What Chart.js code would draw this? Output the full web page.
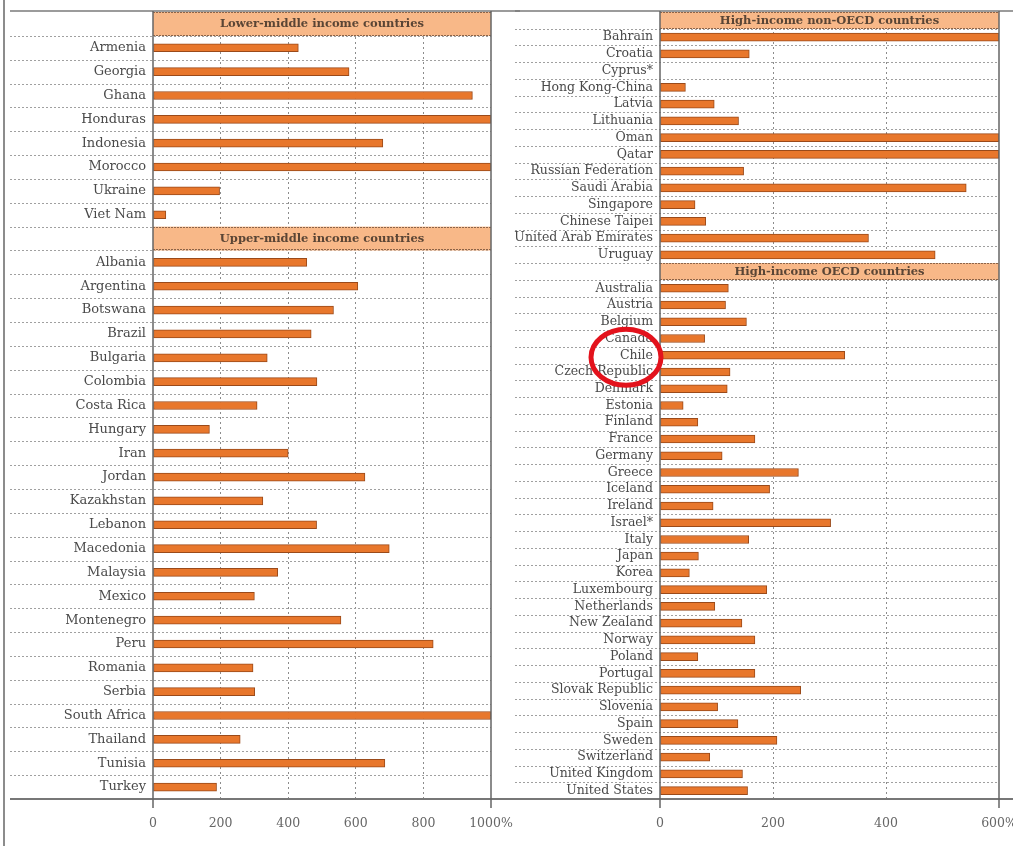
<!DOCTYPE html>
<html>
<head>
<meta charset="utf-8">
<script src="https://cdn.jsdelivr.net/npm/chart.js@4"></script>
<style>
  html, body { margin: 0; padding: 0; background: #ffffff; }
  #wrap { position: relative; width: 1013px; height: 846px; overflow: hidden; background: #ffffff; }
  canvas { position: absolute; top: 0; }
  #left { left: 0; }
  #right { left: 506px; }
</style>
</head>
<body>
<div id="wrap">
  <canvas id="left" width="520" height="846"></canvas>
  <canvas id="right" width="507" height="846"></canvas>
</div>
<script>
// ---------- DATA ----------
const lowerMiddleTitle = 'Lower-middle income countries';
const lowerMiddleCountries = ['Armenia', 'Georgia', 'Ghana', 'Honduras', 'Indonesia', 'Morocco', 'Ukraine', 'Viet Nam'];
const lowerMiddleValues = [430, 580, 945, 1000, 680, 1000, 197, 38];

const upperMiddleTitle = 'Upper-middle income countries';
const upperMiddleCountries = ['Albania', 'Argentina', 'Botswana', 'Brazil', 'Bulgaria', 'Colombia', 'Costa Rica', 'Hungary',
  'Iran', 'Jordan', 'Kazakhstan', 'Lebanon', 'Macedonia', 'Malaysia', 'Mexico', 'Montenegro', 'Peru', 'Romania',
  'Serbia', 'South Africa', 'Thailand', 'Tunisia', 'Turkey'];
const upperMiddleValues = [455, 606, 534, 468, 338, 485, 308, 167,
  400, 627, 325, 484, 699, 369, 300, 556, 829, 296,
  301, 1000, 258, 686, 188];

const nonOecdTitle = 'High-income non-OECD countries';
const nonOecdCountries = ['Bahrain', 'Croatia', 'Cyprus*', 'Hong Kong-China', 'Latvia', 'Lithuania', 'Oman', 'Qatar',
  'Russian Federation', 'Saudi Arabia', 'Singapore', 'Chinese Taipei', 'United Arab Emirates', 'Uruguay'];
const nonOecdValues = [600, 158, null, 45, 96, 139, 600, 600, 148, 542, 62, 81, 369, 487];

const oecdTitle = 'High-income OECD countries';
const oecdCountries = ['Australia', 'Austria', 'Belgium', 'Canada', 'Chile', 'Czech Republic', 'Denmark', 'Estonia',
  'Finland', 'France', 'Germany', 'Greece', 'Iceland', 'Ireland', 'Israel*', 'Italy', 'Japan', 'Korea',
  'Luxembourg', 'Netherlands', 'New Zealand', 'Norway', 'Poland', 'Portugal', 'Slovak Republic', 'Slovenia',
  'Spain', 'Sweden', 'Switzerland', 'United Kingdom', 'United States'];
const oecdValues = [121, 116, 153, 79, 327, 124, 119, 41,
  67, 168, 110, 245, 194, 94, 302, 157, 68, 52,
  189, 97, 145, 168, 67, 168, 249, 102,
  138, 207, 88, 146, 155];

const leftTickLabels = ['0', '200', '400', '600', '800', '1000%'];
const rightTickLabels = ['0', '200', '400', '600%'];
const highlightedCountry = 'Chile';

// ---------- STYLE ----------
const BAR_FILL = '#e8772c';
const BAR_EDGE = '#9a4a1a';
const HEADER_FILL = '#f8b888';
const HEADER_EDGE = '#8d6448';
const TEXT = '#4a4a4a';
const FONT = "'DejaVu Serif', 'Liberation Serif', serif";

const decor = {
  id: 'decor',
  beforeDatasetsDraw(chart, args, opts) {
    const { ctx, chartArea: a, scales: { y } } = chart;
    const n = y.getLabels().length;
    const slot = (a.bottom - a.top) / n;
    ctx.save();
    ctx.strokeStyle = '#a0a0a0';
    ctx.lineWidth = 1;
    ctx.setLineDash([2, 2]);
    for (let k = 1; k < n; k++) {
      const yy = Math.round(a.top + k * slot) + 0.5;
      ctx.beginPath(); ctx.moveTo(opts.lineStart, yy); ctx.lineTo(a.right, yy); ctx.stroke();
    }
    opts.headers.forEach(h => {
      const yc = y.getPixelForValue(h.index);
      const t = yc - slot / 2;
      ctx.setLineDash([]);
      ctx.fillStyle = HEADER_FILL;
      ctx.fillRect(a.left, t, a.right - a.left, slot);
      ctx.strokeStyle = HEADER_EDGE;
      ctx.setLineDash([2, 1]);
      ctx.beginPath();
      ctx.moveTo(a.left, Math.round(t) + 0.5); ctx.lineTo(a.right, Math.round(t) + 0.5);
      ctx.moveTo(a.left, Math.round(t + slot) - 0.5); ctx.lineTo(a.right, Math.round(t + slot) - 0.5);
      ctx.stroke();
      ctx.setLineDash([]);
      ctx.fillStyle = '#5a4535';
      ctx.font = 'bold ' + opts.headerFont + 'px ' + FONT;
      ctx.textAlign = 'center';
      ctx.textBaseline = 'middle';
      ctx.fillText(h.text, (a.left + a.right) / 2, yc + 0.5);
    });
    ctx.restore();
  },
  afterDatasetsDraw(chart, args, opts) {
    const { ctx, chartArea: a, scales: { y } } = chart;
    ctx.save();
    ctx.setLineDash([]);
    ctx.strokeStyle = '#7a7a7a';
    ctx.lineWidth = 1.5;
    ctx.beginPath(); ctx.moveTo(opts.lineStart, a.top - 1); ctx.lineTo(opts.topEnd, a.top - 1); ctx.stroke();
    ctx.strokeStyle = '#777777';
    ctx.lineWidth = 2;
    ctx.beginPath(); ctx.moveTo(opts.lineStart, a.bottom); ctx.lineTo(chart.width, a.bottom); ctx.stroke();
    ctx.strokeStyle = '#666666';
    ctx.lineWidth = 1.5;
    ctx.beginPath();
    ctx.moveTo(a.left, a.top - 1); ctx.lineTo(a.left, a.bottom + 9);
    ctx.moveTo(a.right, a.top - 1); ctx.lineTo(a.right, a.bottom + 9);
    ctx.stroke();
    if (opts.frameLeft) {
      ctx.beginPath(); ctx.moveTo(4, 0); ctx.lineTo(4, chart.height); ctx.stroke();
    }
    if (opts.circle) {
      const idx = y.getLabels().indexOf(opts.circle.label);
      const cy = y.getPixelForValue(idx) + 2;
      const cx = a.left - 34;
      ctx.strokeStyle = '#e3121c';
      ctx.lineWidth = 5;
      ctx.beginPath();
      ctx.ellipse(cx, cy, 35, 28, 0, 0, Math.PI * 2);
      ctx.stroke();
    }
    ctx.restore();
  }
};

function buildChart(canvasId, groups, max, step, tickLabels, cfg) {
  const labels = [];
  const values = [];
  const headers = [];
  groups.forEach(g => {
    headers.push({ index: labels.length, text: g.title });
    labels.push('');
    values.push(null);
    g.countries.forEach((c, i) => { labels.push(c); values.push(g.values[i]); });
  });
  return new Chart(document.getElementById(canvasId), {
    type: 'bar',
    data: {
      labels: labels,
      datasets: [{
        data: values,
        backgroundColor: BAR_FILL,
        borderColor: BAR_EDGE,
        borderWidth: 1,
        barThickness: 8,
        borderSkipped: false
      }]
    },
    options: {
      indexAxis: 'y',
      responsive: false,
      animation: false,
      devicePixelRatio: 1,
      layout: { padding: { top: 12, right: cfg.padRight, left: 0, bottom: 0 } },
      plugins: {
        legend: { display: false },
        tooltip: { enabled: false },
        decor: {
          headers: headers,
          lineStart: cfg.lineStart,
          topEnd: cfg.topEnd,
          headerFont: cfg.headerFont,
          frameLeft: cfg.frameLeft,
          circle: cfg.circle
        }
      },
      scales: {
        x: {
          min: 0, max: max,
          ticks: {
            stepSize: step,
            padding: 17,
            color: '#666666',
            font: { family: FONT, size: 12.5 },
            callback: (v, i) => tickLabels[i]
          },
          grid: {
            drawTicks: false,
            color: (c) => (c.tick && (c.tick.value === 0 || c.tick.value === max)) ? 'rgba(0,0,0,0)' : '#8c8c8c',
            lineWidth: 1
          },
          border: { display: false, dash: [2, 3] },
          afterFit: (s) => { s.height = 47; s.paddingLeft = 0; s.paddingRight = 0; }
        },
        y: {
          type: 'category',
          offset: true,
          grid: { display: false, drawTicks: false },
          border: { display: false },
          ticks: {
            autoSkip: false,
            padding: 7,
            color: TEXT,
            font: { family: FONT, size: cfg.labelFont }
          },
          afterFit: (s) => { s.width = cfg.axisWidth; s.paddingTop = 0; s.paddingBottom = 0; }
        }
      }
    },
    plugins: [decor]
  });
}

buildChart('left', [
  { title: lowerMiddleTitle, countries: lowerMiddleCountries, values: lowerMiddleValues },
  { title: upperMiddleTitle, countries: upperMiddleCountries, values: upperMiddleValues }
], 1000, 200, leftTickLabels, {
  padRight: 29, axisWidth: 153, lineStart: 10, topEnd: 520, labelFont: 13, headerFont: 11.5, frameLeft: true, circle: null
});

buildChart('right', [
  { title: nonOecdTitle, countries: nonOecdCountries, values: nonOecdValues },
  { title: oecdTitle, countries: oecdCountries, values: oecdValues }
], 600, 200, rightTickLabels, {
  padRight: 14, axisWidth: 154, lineStart: 9, topEnd: 507, labelFont: 12.5, headerFont: 11.5, frameLeft: false,
  circle: { label: highlightedCountry }
});
</script>
</body>
</html>
